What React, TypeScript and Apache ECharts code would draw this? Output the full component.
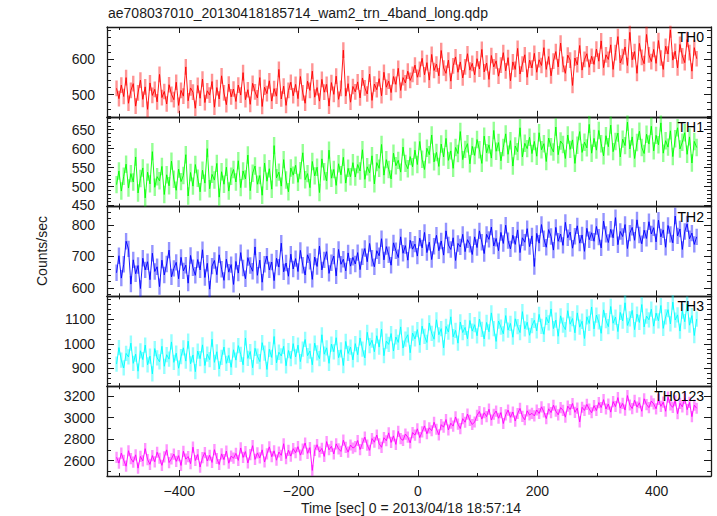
import { useEffect, useRef } from "react";
import * as echarts from "echarts";

const chartTitle = "ae708037010_20130418185714_wam2_trn_4band_long.qdp";
const xTitle = "Time [sec] 0 = 2013/04/18 18:57:14";
const yTitle = "Counts/sec";
const panelNames = ["TH0", "TH1", "TH2", "TH3", "TH0123"];

// light-curve bins: first bin time and bin width (sec)
const binStart = -505;
const binSize = 4;

const th0 = [
  518, 489, 527, 495, 548, 476, 512, 531, 468, 505, 541, 487, 522, 459, 533, 498, 515, 480, 557, 492, 509, 474, 528, 501, 486,
  535, 470, 512, 496, 578, 483, 519, 507, 462, 526, 490, 544, 478, 511, 499, 537, 465, 520, 488, 553, 505, 472, 530, 494, 516,
  481, 527, 499, 562, 486, 514, 473, 532, 508, 491, 548, 467, 521, 503, 539, 482, 517, 496, 571, 488, 524, 470, 512, 535, 497,
  529, 489, 551, 505, 476, 538, 512, 566, 493, 520, 482, 543, 507, 529, 468, 534, 501, 552, 487, 518, 625, 496, 531, 479, 523,
  508, 536, 491, 547, 519, 502, 558, 484, 530, 514, 545, 497, 563, 521, 538, 506, 551, 529, 574, 512, 548, 533, 566, 540, 557,
  583, 549, 571, 602, 556, 590, 541, 613, 568, 586, 553, 624, 575, 560, 597, 538, 581, 606, 563, 592, 547, 578, 615, 569, 588,
  556, 601, 572, 627, 564, 589, 543, 610, 578, 595, 552, 583, 618, 567, 604, 539, 592, 571, 630, 558, 586, 612, 549, 597, 575,
  616, 563, 598, 582, 632, 571, 607, 553, 594, 621, 578, 645, 585, 560, 611, 597, 526, 603, 584, 638, 569, 599, 615, 577, 608,
  585, 628, 594, 651, 576, 612, 599, 640, 571, 618, 663, 589, 607, 634, 582, 675, 598, 621, 560, 644, 605, 587, 669, 612, 593,
  627, 588, 652, 603, 571, 636, 614, 682, 597, 622, 575, 641, 609, 590, 655, 618, 566, 632, 601,
];

const th1 = [
  505, 541, 488, 527, 559, 496, 534, 512, 578, 483, 521, 549, 470, 538, 507, 592, 498, 526, 515, 553, 479, 531, 502, 567, 519,
  490, 546, 513, 529, 584, 475, 537, 501, 558, 522, 486, 543, 509, 600, 494, 532, 517, 561, 472, 539, 506, 551, 488, 527, 545,
  512, 568, 497, 541, 520, 583, 489, 535, 554, 506, 529, 477, 562, 514, 547, 493, 608, 523, 538, 501, 571, 517, 486, 549, 530,
  556, 511, 542, 589, 518, 534, 497, 566, 528, 551, 484, 573, 539, 515, 596, 522, 545, 503, 560, 531, 577, 509, 548, 526, 563,
  525, 558, 541, 597, 519, 552, 536, 581, 507, 563, 548, 611, 530, 571, 545, 520, 588, 555, 569, 538, 604, 561, 547, 579, 552,
  596, 558, 619, 572, 545, 601, 584, 636, 565, 590, 553, 612, 578, 627, 569, 594, 548, 603, 587, 645, 571, 598, 613, 560, 606,
  582, 624, 597, 561, 633, 589, 610, 575, 648, 593, 616, 568, 603, 639, 585, 621, 554, 607, 592, 655, 578, 614, 600, 630, 587,
  619, 580, 642, 597, 613, 566, 628, 605, 591, 657, 584, 620, 611, 574, 636, 598, 623, 561, 609, 645, 590, 617, 602, 664, 588,
  627, 596, 648, 613, 581, 634, 605, 662, 592, 619, 641, 578, 625, 608, 670, 599, 631, 574, 616, 646, 603, 587, 638, 612, 659,
  594, 635, 610, 668, 588, 621, 604, 647, 579, 626, 655, 599, 617, 642, 585, 631, 562, 619, 603,
];

const th2 = [
  648, 702, 631, 675, 748, 724, 612, 689, 645, 671, 598, 694, 657, 683, 626, 710, 652, 667, 604, 688, 641, 676, 720, 635, 662,
  681, 629, 697, 654, 672, 615, 703, 664, 640, 690, 657, 721, 633, 678, 596, 669, 687, 642, 705, 659, 624, 691, 650, 674, 611,
  684, 647, 712, 663, 629, 696, 671, 653, 730, 640, 688, 618, 675, 701, 657, 682, 623, 694, 666, 742, 651, 679, 637, 707, 660,
  693, 652, 719, 672, 641, 705, 684, 627, 698, 668, 733, 657, 689, 715, 646, 680, 701, 638, 722, 675, 691, 654, 711, 669, 697,
  676, 712, 658, 699, 725, 683, 741, 694, 667, 718, 702, 756, 689, 731, 705, 672, 743, 718, 696, 762, 710, 734, 688, 751, 723,
  739, 701, 758, 727, 776, 712, 745, 690, 732, 767, 718, 749, 704, 781, 736, 722, 759, 687, 741, 730, 770, 715, 753, 738, 706,
  762, 728, 781, 745, 709, 770, 754, 793, 733, 757, 718, 776, 741, 799, 750, 724, 767, 738, 784, 712, 759, 745, 788, 731, 765,
  668, 773, 742, 801, 756, 729, 785, 763, 720, 792, 748, 771, 735, 808, 759, 777, 726, 764, 797, 742, 768, 716, 789, 753, 775,
  748, 795, 761, 727, 812, 770, 744, 786, 759, 823, 737, 779, 763, 801, 725, 774, 792, 751, 816, 768, 740, 783, 757, 810, 771,
  791, 746, 815, 762, 784, 729, 798, 770, 743, 828, 765, 787, 722, 779, 803, 756, 774, 738, 762,
];

const th3 = [
  918, 985, 934, 902, 961, 947, 1003, 921, 958, 889, 972, 936, 995, 915, 950, 878, 981, 943, 927, 990, 909, 956, 938, 1008, 925,
  962, 901, 948, 984, 930, 1011, 919, 955, 887, 971, 940, 996, 912, 958, 936, 1019, 925, 968, 898, 945, 987, 921, 953, 905, 976,
  934, 993, 957, 915, 1024, 941, 969, 903, 982, 950, 928, 1005, 962, 896, 978, 945, 1030, 923, 966, 951, 990, 911, 973, 940, 1001,
  947, 995, 928, 979, 1018, 952, 971, 915, 1003, 963, 940, 1037, 958, 984, 921, 999, 968, 1025, 944, 976, 912, 1010, 961, 987, 935,
  1001, 956, 1024, 979, 943, 1047, 993, 1015, 968, 1033, 987, 1060, 952, 1011, 998, 1042, 971, 1028, 1006, 1069, 983, 1019, 1037, 964, 1044,
  1020, 1058, 995, 1072, 1031, 1006, 1085, 1043, 1019, 1098, 1037, 1062, 984, 1071, 1048, 1110, 1029, 1055, 1003, 1089, 1046, 1067, 1021, 1095, 1052,
  1078, 1033, 1101, 1059, 1020, 1087, 1049, 1126, 1062, 1010, 1093, 1068, 1041, 1115, 1056, 1083, 1027, 1102, 1070, 1046, 1131, 1061, 1088, 1035, 1074,
  1096, 1053, 1120, 1071, 1039, 1108, 1085, 1142, 1062, 1097, 1031, 1114, 1076, 1058, 1135, 1080, 1103, 1045, 1126, 1068, 1092, 1022, 1110, 1083, 1150,
  1061, 1117, 1089, 1043, 1138, 1095, 1070, 1152, 1084, 1109, 1050, 1128, 1093, 1167, 1075, 1102, 1136, 1058, 1121, 1087, 1160, 1069, 1113, 1098, 1141,
  1072, 1125, 1094, 1156, 1063, 1110, 1139, 1081, 1170, 1097, 1118, 1052, 1133, 1090, 1162, 1076, 1115, 1034, 1101,
];

const th0123 = [
  2632, 2578, 2671, 2604, 2549, 2693, 2620, 2587, 2655, 2531, 2640, 2598, 2712, 2611, 2566, 2648, 2590, 2679, 2623, 2557, 2636, 2701, 2583, 2618, 2662,
  2594, 2647, 2556, 2688, 2615, 2639, 2573, 2726, 2602, 2658, 2541, 2629, 2676, 2598, 2651, 2584, 2703, 2621, 2565, 2664, 2610, 2690, 2577, 2643, 2624,
  2668, 2603, 2719, 2631, 2685, 2579, 2656, 2740, 2612, 2673, 2626, 2701, 2588, 2664, 2729, 2637, 2692, 2605, 2681, 2650, 2758, 2619, 2697, 2643, 2712,
  2674, 2731, 2652, 2708, 2765, 2669, 2722, 2510, 2696, 2749, 2681, 2715, 2640, 2778, 2702, 2734, 2663, 2757, 2711, 2687, 2791, 2725, 2680, 2746, 2718,
  2732, 2788, 2704, 2761, 2820, 2745, 2697, 2806, 2772, 2839, 2758, 2725, 2814, 2786, 2859, 2770, 2831, 2752, 2873, 2805, 2790, 2848, 2819, 2766, 2862,
  2838, 2897, 2815, 2869, 2924, 2851, 2906, 2879, 2958, 2893, 2841, 2935, 2912, 2983, 2886, 2949, 2922, 3007, 2940, 2899, 2991, 2958, 3034, 2976, 2937,
  2960, 3021, 3058, 2987, 3046, 3010, 3079, 2978, 3032, 3062, 2995, 3048, 2946, 3027, 3071, 3004, 3053, 2969, 3039, 3086, 3012, 2981, 3064, 3025, 3041,
  3017, 3072, 3039, 3101, 3054, 2992, 3083, 3048, 3116, 3061, 3027, 3094, 3069, 3005, 3108, 3076, 3132, 3050, 3089, 2961, 3097, 3068, 3124, 3080, 3046,
  3112, 3067, 3141, 3095, 3168, 3081, 3127, 3052, 3150, 3104, 3187, 3090, 3133, 3071, 3206, 3118, 3085, 3162, 3099, 3139, 3060, 3176, 3122, 3094, 3155,
  3128, 3083, 3171, 3106, 3145, 3060, 3192, 3119, 3096, 3158, 3037, 3134, 3101, 3180, 3075, 3142, 3010, 3117, 3088,
];

// per-panel error-bar half length (counts/sec)
const panelErrors = [22, 23, 26, 31, 52];

// axis ranges and ticks
const xMin = -521;
const xMax = 491;
const xMajorTicks = [-400, -200, 0, 200, 400];
const xMinorTicks = [-500, -300, -100, 100, 300];
const yMins = [438, 447, 573, 828, 2458];
const yMaxs = [690, 684, 858, 1193, 3293];
const yMajorTicks = [
  [500, 600],
  [450, 500, 550, 600, 650],
  [600, 700, 800],
  [900, 1000, 1100],
  [2600, 2800, 3000, 3200],
];
const yMinorSteps = [20, 10, 20, 20, 100];

const panelData = [th0, th1, th2, th3, th0123];
const lineColors = ["#ff0000", "#00ff00", "#0000ff", "#00ffff", "#ff00ff"];

const FONT = "'Liberation Sans', Arial, Helvetica, sans-serif";
const INK = "#1a1a1a";
const PLOT_LEFT = 107;
const PLOT_RIGHT = 711;
const PLOT_TOP = 27;
const PLOT_BOTTOM = 476;

function stepValues(min: number, max: number, step: number) {
  const out: number[] = [];
  for (let v = Math.ceil(min / step) * step; v <= max; v += step) out.push(v);
  return out;
}

function hexToRgba(hex: string, a: number) {
  const r = parseInt(hex.slice(1, 3), 16);
  const g = parseInt(hex.slice(3, 5), 16);
  const b = parseInt(hex.slice(5, 7), 16);
  return `rgba(${r},${g},${b},${a})`;
}

function buildOption() {
  const n = panelData.length;
  const panelH = (PLOT_BOTTOM - PLOT_TOP) / n;
  const axisLineStyle = { color: INK, width: 1.3 };
  const tickLineStyle = { color: INK, width: 1 };

  const grid: any[] = [];
  const xAxis: any[] = [];
  const yAxis: any[] = [];
  const series: any[] = [];
  const graphic: any[] = [];

  for (let i = 0; i < n; i++) {
    const top = PLOT_TOP + i * panelH;
    grid.push({ left: PLOT_LEFT, width: PLOT_RIGHT - PLOT_LEFT, top, height: panelH, containLabel: false });

    const baseX = {
      type: "value",
      gridIndex: i,
      min: xMin,
      max: xMax,
      splitLine: { show: false },
      axisPointer: { show: false },
    };
    xAxis.push({
      ...baseX,
      position: "bottom",
      axisLine: { show: true, onZero: false, lineStyle: axisLineStyle },
      axisTick: { show: true, inside: true, length: 6, customValues: xMajorTicks, lineStyle: tickLineStyle },
      axisLabel: i === n - 1
        ? { show: true, customValues: xMajorTicks, margin: 8, fontSize: 14, fontFamily: FONT, color: INK,
            formatter: (v: number) => (v < 0 ? "\u2212" + Math.abs(v) : String(v)) }
        : { show: false },
    });
    xAxis.push({
      ...baseX,
      position: "top",
      axisLine: { show: true, onZero: false, lineStyle: axisLineStyle },
      axisTick: { show: true, inside: true, length: 6, customValues: xMajorTicks, lineStyle: tickLineStyle },
      axisLabel: { show: false },
    });
    for (const pos of ["bottom", "top"]) {
      xAxis.push({
        ...baseX,
        position: pos,
        axisLine: { show: false, onZero: false },
        axisTick: { show: true, inside: true, length: 3, customValues: xMinorTicks, lineStyle: tickLineStyle },
        axisLabel: { show: false },
      });
    }

    const baseY = {
      type: "value",
      gridIndex: i,
      min: yMins[i],
      max: yMaxs[i],
      splitLine: { show: false },
      axisPointer: { show: false },
    };
    yAxis.push({
      ...baseY,
      position: "left",
      axisLine: { show: true, onZero: false, lineStyle: axisLineStyle },
      axisTick: { show: true, inside: true, length: 7, customValues: yMajorTicks[i], lineStyle: tickLineStyle },
      axisLabel: { show: true, customValues: yMajorTicks[i], margin: 12, fontSize: 14, fontFamily: FONT, color: INK,
        formatter: (v: number) => String(v) },
    });
    yAxis.push({
      ...baseY,
      position: "right",
      axisLine: { show: true, onZero: false, lineStyle: axisLineStyle },
      axisTick: { show: true, inside: true, length: 7, customValues: yMajorTicks[i], lineStyle: tickLineStyle },
      axisLabel: { show: false },
    });
    const minor = stepValues(yMins[i], yMaxs[i], yMinorSteps[i]);
    for (const pos of ["left", "right"]) {
      yAxis.push({
        ...baseY,
        position: pos,
        axisLine: { show: false, onZero: false },
        axisTick: { show: true, inside: true, length: 4, customValues: minor, lineStyle: tickLineStyle },
        axisLabel: { show: false },
      });
    }

    const pts = panelData[i].map((v, k) => [binStart + k * binSize, v]);
    // error bars: vertical segments (lo -> hi) separated by gaps
    const errSegs: any[] = [];
    panelData[i].forEach((v, k) => {
      const t = binStart + k * binSize;
      errSegs.push([t, v - panelErrors[i]], [t, v + panelErrors[i]], [t, null]);
    });
    const errColor = hexToRgba(lineColors[i], 0.42);

    series.push({
      type: "line",
      xAxisIndex: 4 * i,
      yAxisIndex: 4 * i,
      data: errSegs,
      showSymbol: false,
      symbol: "none",
      connectNulls: false,
      clip: true,
      silent: true,
      z: 1,
      lineStyle: { color: errColor, width: 2.4, cap: "butt" },
    });
    series.push({
      type: "line",
      xAxisIndex: 4 * i,
      yAxisIndex: 4 * i,
      data: pts,
      showSymbol: false,
      symbol: "none",
      clip: true,
      silent: true,
      z: 2,
      lineStyle: { color: lineColors[i], width: 0.9 },
    });

    graphic.push({
      type: "text",
      right: 717 - 704,
      top: top + 3,
      z: 10,
      style: { text: panelNames[i], fontSize: 14, fontFamily: FONT, fill: "#000" },
    });
  }

  graphic.push({
    type: "text",
    left: 108,
    top: 6,
    style: { text: chartTitle, fontSize: 14, fontFamily: FONT, fill: INK },
  });
  graphic.push({
    type: "text",
    x: 42,
    y: 251,
    rotation: Math.PI / 2,
    style: { text: yTitle, fontSize: 14, fontFamily: FONT, fill: INK, align: "center", verticalAlign: "middle" },
  });
  graphic.push({
    type: "text",
    x: 411,
    y: 508,
    style: { text: xTitle, fontSize: 14, fontFamily: FONT, fill: INK, align: "center", verticalAlign: "middle" },
  });

  return {
    animation: false,
    backgroundColor: "#ffffff",
    grid,
    xAxis,
    yAxis,
    series,
    graphic,
  };
}

export default function App() {
  const ref = useRef<HTMLDivElement>(null);
  useEffect(() => {
    document.body.style.margin = "0";
    const chart = echarts.init(ref.current as HTMLDivElement, null, { renderer: "svg" });
    chart.setOption(buildOption() as any);
    return () => chart.dispose();
  }, []);
  return <div ref={ref} style={{ width: 717, height: 516 }} />;
}
